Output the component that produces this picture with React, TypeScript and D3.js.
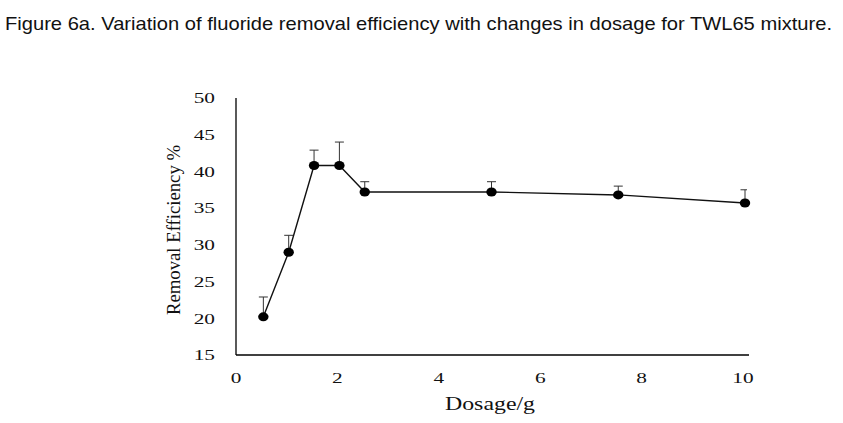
import React from 'react';
import * as d3 from 'd3';

const dosage = [0.5, 1, 1.5, 2, 2.5, 5, 7.5, 10];
const efficiency = [20.2, 29.0, 40.8, 40.8, 37.2, 37.2, 36.8, 35.7];
const errorUp = [2.7, 2.3, 2.1, 3.2, 1.4, 1.4, 1.2, 1.8];
const xTicks = [0, 2, 4, 6, 8, 10];
const yTicks = [15, 20, 25, 30, 35, 40, 45, 50];

const W = 843;
const H = 423;
const serif = '"Liberation Serif", "DejaVu Serif", serif';
// the source figure is stretched sideways, so the serif text is widened too
const stretch = 1.42;

export default function App() {
  const x = d3.scaleLinear().domain([0, 10]).range([238, 745]);
  const y = d3.scaleLinear().domain([15, 50]).range([355, 98]);

  const pts = dosage.map((d, i) => ({ d, v: efficiency[i], e: errorUp[i] }));
  const line = d3
    .line<{ d: number; v: number }>()
    .x((p) => x(p.d))
    .y((p) => y(p.v));

  return (
    <svg
      width={W}
      height={H}
      style={{ position: 'absolute', left: 0, top: 0, background: '#fff' }}
    >
      <text
        x={5}
        y={30}
        fontFamily='"Liberation Sans Narrow", "Liberation Sans", sans-serif'
        fontSize={19}
        fill="#111"
        textLength={827}
        lengthAdjust="spacingAndGlyphs"
      >
        Figure 6a. Variation of fluoride removal efficiency with changes in dosage for TWL65 mixture.
      </text>

      <defs>
        <clipPath id="plot">
          <rect x={236} y={90} width={511} height={266} />
        </clipPath>
      </defs>

      {/* axes */}
      <line x1={236} x2={236} y1={98} y2={355} stroke="#000" strokeWidth={1.3} />
      <line x1={236} x2={749} y1={355} y2={355} stroke="#000" strokeWidth={1.3} />

      {yTicks.map((t) => (
        <text
          key={t}
          transform={`translate(215, ${y(t)}) scale(${stretch}, 1)`}
          dy="0.35em"
          textAnchor="end"
          fontFamily={serif}
          fontSize={15}
          fill="#111"
        >
          {t}
        </text>
      ))}
      {xTicks.map((t) => (
        <text
          key={t}
          transform={`translate(${x(t) - 2}, 383) scale(${stretch}, 1)`}
          textAnchor="middle"
          fontFamily={serif}
          fontSize={15}
          fill="#111"
        >
          {t}
        </text>
      ))}

      <text
        x={445}
        y={410}
        fontFamily={serif}
        fontSize={18}
        fill="#111"
        textLength={90}
        lengthAdjust="spacingAndGlyphs"
      >
        Dosage/g
      </text>
      <text
        transform={`translate(180, 315) rotate(-90)`}
        fontFamily={serif}
        fontSize={18}
        fill="#111"
        textLength={170}
        lengthAdjust="spacingAndGlyphs"
      >
        Removal Efficiency %
      </text>

      <g clipPath="url(#plot)">
        {pts.map((p, i) => (
          <g key={i} stroke="#333" strokeWidth={1}>
            <line x1={x(p.d)} x2={x(p.d)} y1={y(p.v)} y2={y(p.v + p.e)} />
            <line x1={x(p.d) - 4.5} x2={x(p.d) + 4.5} y1={y(p.v + p.e)} y2={y(p.v + p.e)} />
          </g>
        ))}
      </g>

      <path d={line(pts) || ''} fill="none" stroke="#111" strokeWidth={1.4} />

      {pts.map((p, i) => (
        <ellipse key={i} cx={x(p.d)} cy={y(p.v)} rx={5.2} ry={4.5} fill="#000" />
      ))}
    </svg>
  );
}
